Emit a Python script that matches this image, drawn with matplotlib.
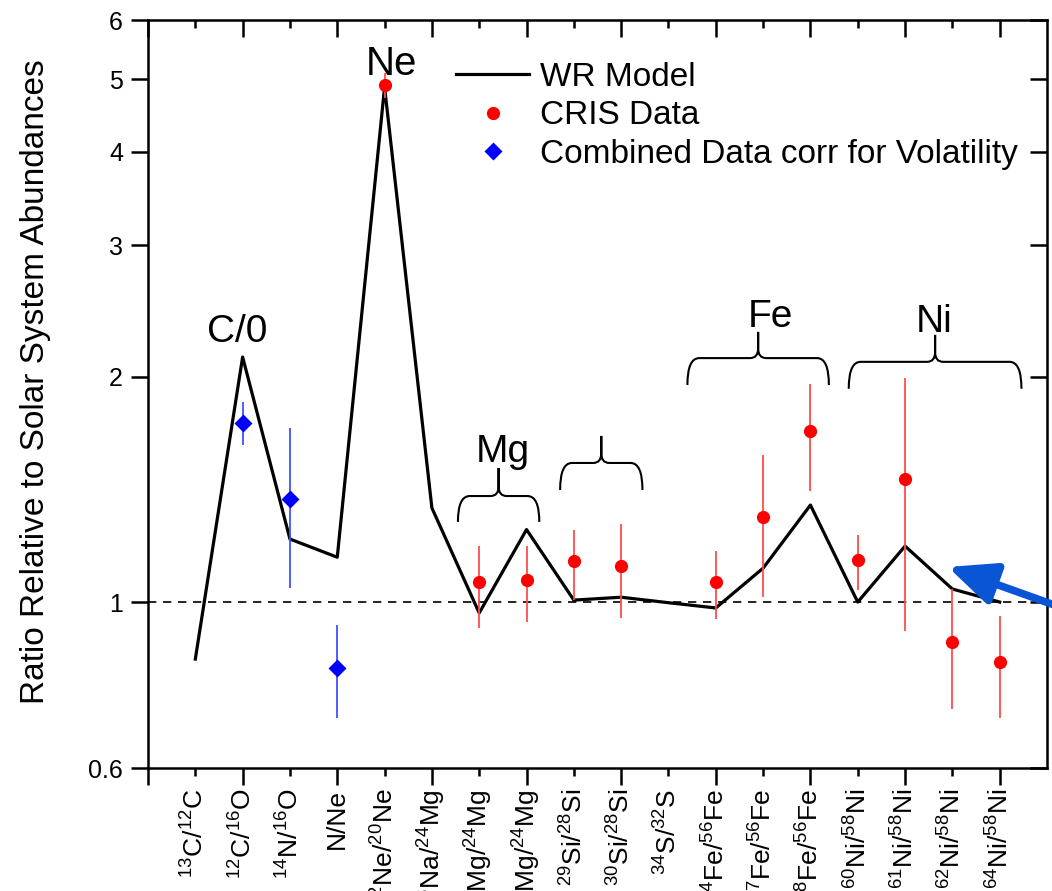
import numpy as np
import matplotlib
matplotlib.use('Agg')
import matplotlib.pyplot as plt
import matplotlib.transforms as mtransforms
from matplotlib.path import Path
from matplotlib.patches import PathPatch
from matplotlib.lines import Line2D
from matplotlib.ticker import NullLocator

plt.rcParams['font.family'] = ['Liberation Sans', 'DejaVu Sans']
plt.rcParams['mathtext.fontset'] = 'custom'
plt.rcParams['mathtext.rm'] = 'Liberation Sans'
plt.rcParams['mathtext.it'] = 'Liberation Sans:italic'
plt.rcParams['mathtext.bf'] = 'Liberation Sans:bold'

# ---- data ----
ratios = [r'$^{13}$C/$^{12}$C', r'$^{12}$C/$^{16}$O', r'$^{14}$N/$^{16}$O', 'N/Ne',
          r'$^{22}$Ne/$^{20}$Ne', r'$^{23}$Na/$^{24}$Mg', r'$^{25}$Mg/$^{24}$Mg',
          r'$^{26}$Mg/$^{24}$Mg', r'$^{29}$Si/$^{28}$Si', r'$^{30}$Si/$^{28}$Si',
          r'$^{34}$S/$^{32}$S', r'$^{54}$Fe/$^{56}$Fe', r'$^{57}$Fe/$^{56}$Fe',
          r'$^{58}$Fe/$^{56}$Fe', r'$^{60}$Ni/$^{58}$Ni', r'$^{61}$Ni/$^{58}$Ni',
          r'$^{62}$Ni/$^{58}$Ni', r'$^{64}$Ni/$^{58}$Ni']

wr_model = [0.839, 2.126, 1.214, 1.148, 4.88, 1.336, 0.967, 1.25, 1.006, 1.015,
            0.998, 0.982, 1.11, 1.348, 1.0, 1.188, 1.041, 1.0]

cris_idx = [4, 6, 7, 8, 9, 11, 12, 13, 14, 15, 16, 17]
cris_val = [4.91, 1.063, 1.07, 1.134, 1.117, 1.063, 1.299, 1.693, 1.138, 1.46, 0.884, 0.832]
cris_lo = [4.72, 0.923, 0.94, 1.006, 0.952, 0.949, 1.015, 1.407, 1.037, 0.915, 0.719, 0.70]
cris_hi = [5.10, 1.19, 1.188, 1.248, 1.27, 1.17, 1.572, 1.956, 1.229, 1.993, 1.04, 0.958]

comb_idx = [1, 2, 3]
comb_val = [1.735, 1.373, 0.816]
comb_lo = [1.622, 1.044, 0.70]
comb_hi = [1.851, 1.71, 0.932]

yticks = [0.6, 1, 2, 3, 4, 5, 6]
ytick_labels = ['0.6', '1', '2', '3', '4', '5', '6']

fig = plt.figure(figsize=(10.52, 8.91), dpi=100)
ax = fig.add_axes([148 / 1052, 123 / 891, 899 / 1052, 748 / 891])

x = np.arange(len(ratios))
cris_val = np.array(cris_val)
comb_val = np.array(comb_val)

ax.axhline(1, color='black', ls=(0, (5, 4)), lw=1.2, zorder=1)
ax.plot(x, wr_model, color='black', lw=2.3, zorder=2)

ax.errorbar(cris_idx, cris_val, yerr=[cris_val - np.array(cris_lo), np.array(cris_hi) - cris_val],
            fmt='none', ecolor='#ff4d4d', elinewidth=1.3, zorder=3)
ax.plot(cris_idx, cris_val, 'o', color='#ff0000', ms=9.5, mec='none', zorder=4)

ax.errorbar(comb_idx, comb_val, yerr=[comb_val - np.array(comb_lo), np.array(comb_hi) - comb_val],
            fmt='none', ecolor='#4050ff', elinewidth=1.3, zorder=3)
ax.plot(comb_idx, comb_val, 'D', color='#0000ff', ms=9, mec='none', zorder=4)

# axes / ticks
ax.set_yscale('log')
ax.set_ylim(0.6, 6)
ax.set_xlim(-1, 18)
ax.set_yticks(yticks, labels=ytick_labels)
ax.yaxis.set_minor_locator(NullLocator())
ax.tick_params(axis='y', direction='out', length=12, width=1.8, labelsize=18, pad=6)

major_x = [-1] + list(x[1::2])
major_lab = [''] + [ratios[i] for i in x[1::2]]
ax.set_xticks(major_x, labels=major_lab)
ax.set_xticks(x[0::2], labels=[ratios[i] for i in x[0::2]], minor=True)
ax.tick_params(axis='x', which='major', direction='out', length=12, width=1.8, pad=3,
               labelsize=19, labelrotation=90)
ax.tick_params(axis='x', which='minor', direction='out', length=6, width=1.8, pad=9,
               labelsize=19, labelrotation=90)

for s in ax.spines.values():
    s.set_linewidth(1.8)

sec_r = ax.secondary_yaxis('right')
sec_r.set_yticks(yticks)
sec_r.yaxis.set_minor_locator(NullLocator())
sec_r.tick_params(direction='in', length=12, width=1.8, labelright=False)

sec_t = ax.secondary_xaxis('top')
sec_t.set_xticks(major_x)
sec_t.set_xticks(x[0::2], minor=True)
sec_t.tick_params(which='major', direction='in', length=12, width=1.8, labeltop=False)
sec_t.tick_params(which='minor', direction='in', length=6, width=1.8, labeltop=False)

ax.set_ylabel('Ratio Relative to Solar System Abundances', fontsize=24)
ax.yaxis.set_label_coords(-0.108, 0.517)

# group labels
ax.text(0.89, 2.226, 'C/0', fontsize=28, ha='center', va='baseline')
ax.text(4.15, 5.07, 'Ne', fontsize=29, ha='center', va='baseline')
ax.text(6.5, 1.538, 'Mg', fontsize=28, ha='center', va='baseline')
ax.text(12.16, 2.333, 'Fe', fontsize=28, ha='center', va='baseline')
ax.text(15.61, 2.295, 'Ni', fontsize=28, ha='center', va='baseline')

# curly braces (x in data, y in axes fraction)
trans = mtransforms.blended_transform_factory(ax.transData, ax.transAxes)


def brace(x0, x1, yh, yend, ytip):
    xm = (x0 + x1) / 2
    rx, rt, ht = 0.25, 0.17, 0.013
    verts = [(x0, yend), (x0, yh), (x0 + rx, yh),
             (xm - rt, yh), (xm, yh), (xm, yh + ht), (xm, ytip),
             (xm, yh + ht), (xm, yh), (xm + rt, yh),
             (x1 - rx, yh), (x1, yh), (x1, yend)]
    codes = [Path.MOVETO, Path.CURVE3, Path.CURVE3,
             Path.LINETO, Path.CURVE3, Path.CURVE3, Path.LINETO,
             Path.LINETO, Path.CURVE3, Path.CURVE3,
             Path.LINETO, Path.CURVE3, Path.CURVE3]
    ax.add_patch(PathPatch(Path(verts, codes), fc='none', ec='black', lw=1.5,
                           transform=trans, clip_on=False))


brace(5.55, 7.27, 0.3636, 0.329, 0.401)
brace(7.71, 9.45, 0.4078, 0.3717, 0.4439)
brace(10.4, 13.39, 0.548, 0.512, 0.583)
brace(13.81, 17.46, 0.543, 0.507, 0.579)

# blue arrow
ax.annotate('', xy=(948, 891 - 567), xycoords='figure pixels',
            xytext=(1085, 891 - 616), textcoords='figure pixels',
            arrowprops=dict(arrowstyle='-|>,head_length=0.85,head_width=0.38',
                            color='#0a55d5', lw=5.5, mutation_scale=34,
                            shrinkA=0, shrinkB=0),
            annotation_clip=False)

handles = [Line2D([], [], color='black', lw=2.3),
           Line2D([], [], ls='none', marker='o', color='#ff0000', ms=9.5, mec='none'),
           Line2D([], [], ls='none', marker='D', color='#0000ff', ms=9, mec='none')]
ax.legend(handles, ['WR Model', 'CRIS Data', 'Combined Data corr for Volatility'],
          loc='upper left', bbox_to_anchor=(456 / 1052, 1 - 62 / 891),
          bbox_transform=fig.transFigure, frameon=False, fontsize=24,
          handlelength=2.2, handletextpad=0.32, labelspacing=0.22,
          borderpad=0, borderaxespad=0)

fig.savefig('out.png', dpi=100)
